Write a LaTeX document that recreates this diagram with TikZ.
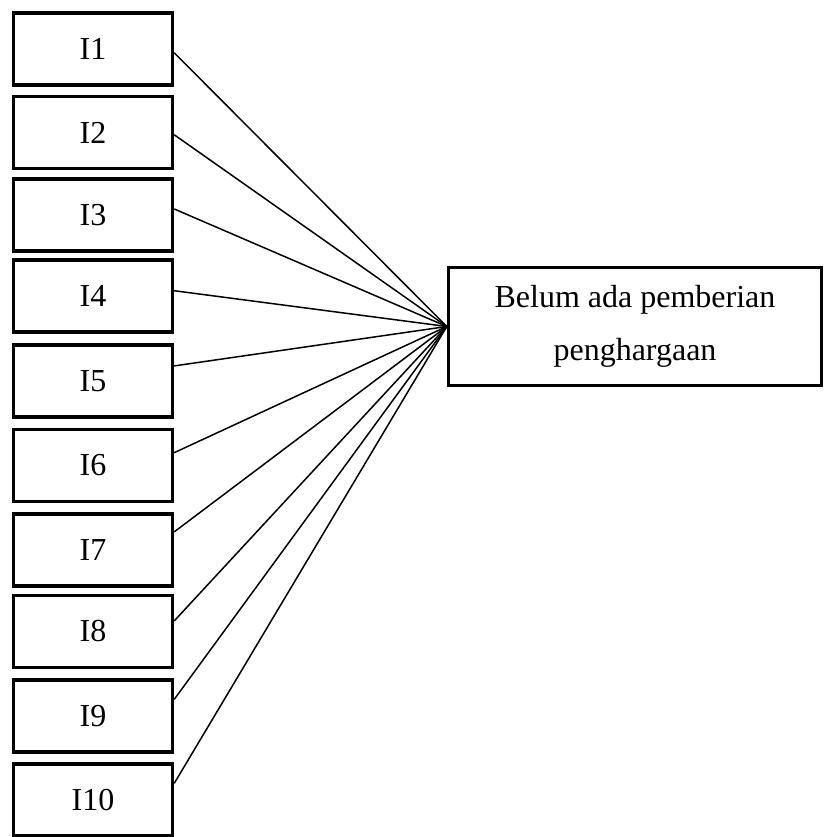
\documentclass[tikz,border=0pt]{standalone}
\usepackage{fontspec}
\setmainfont{Liberation Serif}
\usetikzlibrary{calc}
\begin{document}
\begin{tikzpicture}[x=1pt,y=-1pt,
  itembox/.style={draw, line width=3.4pt, minimum width=159pt, minimum height=72pt,
    inner sep=0pt, font=\fontsize{32}{38}\selectfont},
  targetbox/.style={draw, line width=3.4pt, minimum width=373pt, minimum height=118pt,
    inner sep=0pt, align=center, font=\fontsize{32}{53}\selectfont},
  link/.style={line width=1.5pt}]
\useasboundingbox (0,0) rectangle (823,837);
% indicator boxes on the left
\node[itembox] (I1)  at (93,49)    {I1};
\node[itembox] (I2)  at (93,132.5) {I2};
\node[itembox] (I3)  at (93,215)   {I3};
\node[itembox] (I4)  at (93,296)   {I4};
\node[itembox] (I5)  at (93,381)   {I5};
\node[itembox] (I6)  at (93,465.5) {I6};
\node[itembox] (I7)  at (93,550)   {I7};
\node[itembox] (I8)  at (93,631.5) {I8};
\node[itembox] (I9)  at (93,716)   {I9};
\node[itembox] (I10) at (93,800)   {I10};
% target box
\node[targetbox] (B) at (635,326.5) {Belum ada pemberian\\penghargaan};
% connectors from each indicator to the target
\foreach \n/\f in {I1/0.55, I2/0.53, I3/0.42, I4/0.43, I5/0.30,
                   I6/0.33, I7/0.26, I8/0.36, I9/0.28, I10/0.28} {
  \draw[link] ($(\n.north east)!\f!(\n.south east)$) -- (B.west);
}
\end{tikzpicture}
\end{document}
